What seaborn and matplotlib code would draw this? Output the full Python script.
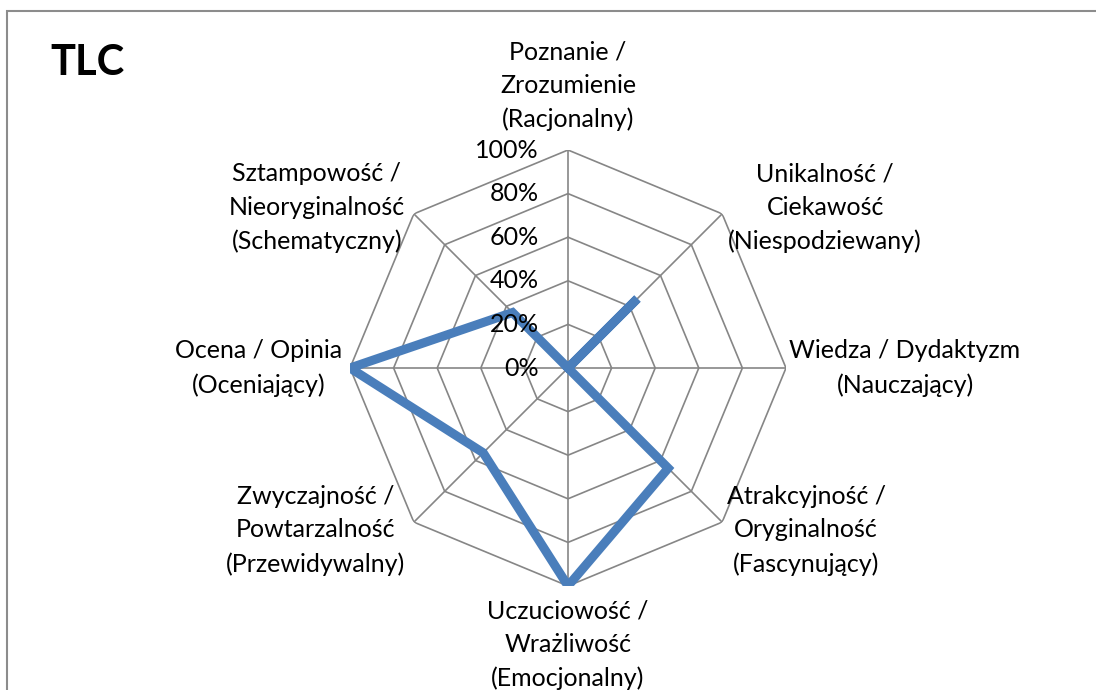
import numpy as np
import seaborn as sns
import matplotlib.pyplot as plt
from matplotlib.patches import Rectangle

# data
categories = [
    'Poznanie /\nZrozumienie\n(Racjonalny)',
    'Unikalność /\nCiekawość\n(Niespodziewany)',
    'Wiedza / Dydaktyzm\n(Nauczający)',
    'Atrakcyjność /\nOryginalność\n(Fascynujący)',
    'Uczuciowość /\nWrażliwość\n(Emocjonalny)',
    'Zwyczajność /\nPowtarzalność\n(Przewidywalny)',
    'Ocena / Opinia\n(Oceniający)',
    'Sztampowość /\nNieoryginalność\n(Schematyczny)',
]
values = [0.0, 0.45, 0.0, 0.65, 1.0, 0.55, 1.0, 0.36]
ring_levels = [0.2, 0.4, 0.6, 0.8, 1.0]
tick_labels = ['0%', '20%', '40%', '60%', '80%', '100%']
title = 'TLC'

sns.set_style('white')
plt.rcParams['font.family'] = ['Lato', 'DejaVu Sans']

fig = plt.figure(figsize=(10.96, 6.90), dpi=100)
fig.patches.append(Rectangle((7 / 1096, -0.1), 1.2, (690 - 11) / 690 + 0.1,
                             transform=fig.transFigure, fill=False,
                             edgecolor='#8c8c8c', linewidth=1.5))

ax = fig.add_axes([(568 - 218) / 1096, (690 - 368 - 218) / 690, 436 / 1096, 436 / 690],
                  projection='polar')
ax.set_theta_zero_location('N')
ax.set_theta_direction(-1)
ax.set_ylim(0, 1)
ax.grid(False)
ax.spines['polar'].set_visible(False)
ax.set_xticks([])
ax.set_yticks([])
ax.patch.set_alpha(0)

n = len(categories)
angles = np.linspace(0, 2 * np.pi, n, endpoint=False)
closed = np.append(angles, angles[0])

grid_color = '#868686'
for lvl in ring_levels:
    ax.plot(closed, [lvl] * (n + 1), color=grid_color, lw=1.2, zorder=1)
for a in angles:
    ax.plot([a, a], [0, 1], color=grid_color, lw=1.2, zorder=1)

ax.plot(closed, values + values[:1], color='#4a7ebb', lw=6.5, zorder=3,
        solid_joinstyle='miter')

# radial tick labels, left of the top spoke
for i, t in enumerate(tick_labels):
    ax.annotate(t, xy=(0, i * 0.2), xytext=(-29, 0), textcoords='offset pixels',
                ha='right', va='center', fontsize=18, color='#000000',
                annotation_clip=False)

offsets = [(0, 64), (103, 6), (119, 0), (84, -8), (0, -59), (-98, -8), (-91, 0), (-97, 6)]
for a, lab, (dx, dy) in zip(angles, categories, offsets):
    ax.annotate(lab, xy=(a, 1.0), xytext=(dx, dy), textcoords='offset pixels',
                ha='center', va='center', multialignment='center', color='#000000',
                fontsize=18, linespacing=1.55, annotation_clip=False)

fig.text(50 / 1096, 1 - 63 / 690, title, fontsize=30, fontweight='bold',
         ha='left', va='center', color='#000000')

fig.savefig('out.png', dpi=100)
plt.close()
